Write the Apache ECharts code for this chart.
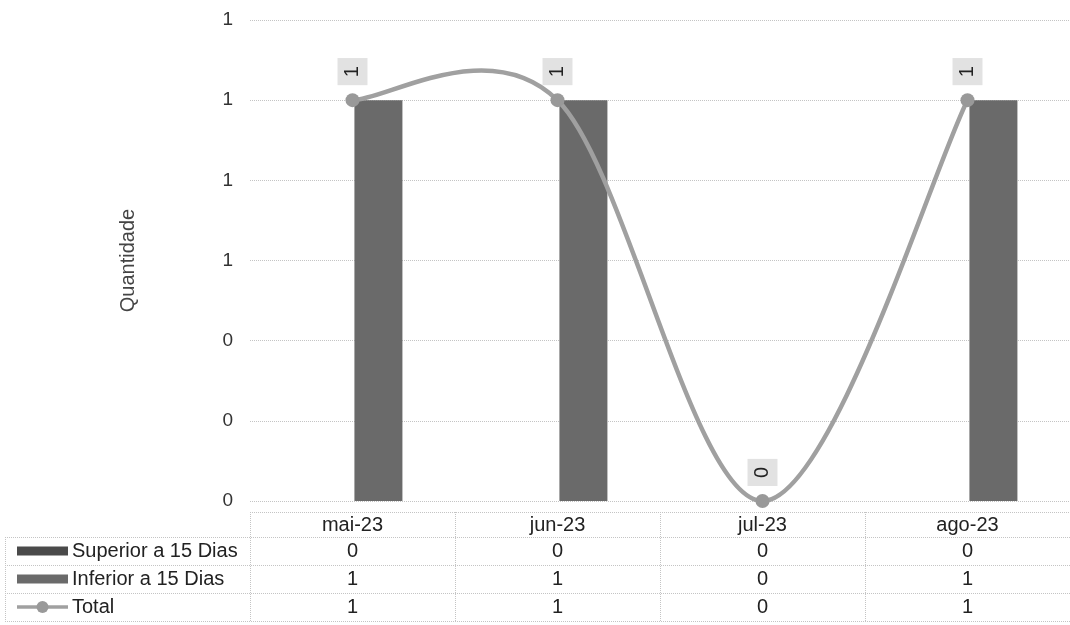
<!DOCTYPE html>
<html><head><meta charset="utf-8">
<script src="https://cdn.jsdelivr.net/npm/echarts@6/dist/echarts.min.js"></script>
<style>html,body{margin:0;padding:0;background:#fff}#c{width:1070px;height:625px}</style>
</head><body><div id="c"></div>
<script>
const categories = ['mai-23', 'jun-23', 'jul-23', 'ago-23'];
const superior = [0, 0, 0, 0];
const inferior = [1, 1, 0, 1];
const total = [1, 1, 0, 1];
const seriesNames = ['Superior a 15 Dias', 'Inferior a 15 Dias', 'Total'];
const yTicks = { min: 0, max: 1.2, interval: 0.2 };

const FONT = '"Liberation Sans", Arial, sans-serif';
const cSup = '#4a4a4a', cInf = '#6a6a6a', cLine = '#a0a0a0', cDot = '#999999';
const gridCol = '#c4c4c4';

const chart = echarts.init(document.getElementById('c'), null, { renderer: 'canvas' });
const GRID = { left: 250, right: -4, top: 20, bottom: 124 };

// Smooth (Catmull-Rom style) curve through the Total values, via the axis scales
function renderCurve(params, api) {
  const i = params.dataIndex;
  const n = total.length;
  if (i >= n - 1) return null;
  const P = k => { const j = Math.max(0, Math.min(n - 1, k)); return api.coord([j, total[j]]); };
  const p0 = P(i - 1), p1 = P(i), p2 = P(i + 1), p3 = P(i + 2);
  const t = 6;
  return {
    type: 'bezierCurve',
    shape: {
      x1: p1[0], y1: p1[1], x2: p2[0], y2: p2[1],
      cpx1: p1[0] + (p2[0] - p0[0]) / t, cpy1: p1[1] + (p2[1] - p0[1]) / t,
      cpx2: p2[0] - (p3[0] - p1[0]) / t, cpy2: p2[1] - (p3[1] - p1[1]) / t
    },
    style: { stroke: cLine, lineWidth: 4.5, fill: null, lineCap: 'round' }
  };
}

chart.setOption({
  animation: false,
  textStyle: { fontFamily: FONT },
  grid: GRID,
  xAxis: {
    type: 'category', data: categories,
    axisLine: { show: false }, axisTick: { show: false }, axisLabel: { show: false }
  },
  yAxis: {
    type: 'value', min: yTicks.min, max: yTicks.max, interval: yTicks.interval,
    name: 'Quantidade', nameLocation: 'middle', nameGap: 112,
    nameTextStyle: { fontSize: 20, color: '#444', fontFamily: FONT },
    axisLine: { show: false }, axisTick: { show: false },
    axisLabel: { fontSize: 19, color: '#333', margin: 17, fontFamily: FONT,
      formatter: v => String(Math.round(v)) },
    splitLine: { lineStyle: { color: gridCol, type: 'dotted', width: 1 } }
  },
  series: [
    { name: seriesNames[0], type: 'bar', data: superior, barWidth: 48, barGap: '8%',
      itemStyle: { color: cSup } },
    { name: seriesNames[1], type: 'bar', data: inferior, barWidth: 48, barGap: '8%',
      itemStyle: { color: cInf } },
    { name: seriesNames[2] + ' curve', type: 'custom', data: total.map((v, i) => [i, v]),
      renderItem: renderCurve, clip: false, z: 4, silent: true },
    { name: seriesNames[2], type: 'line', data: total,
      symbol: 'circle', symbolSize: 14,
      lineStyle: { opacity: 0 }, itemStyle: { color: cDot },
      label: { show: true, position: 'top', distance: 8, rotate: 90,
        align: 'left', verticalAlign: 'middle',
        fontSize: 20, color: '#222', fontFamily: FONT, lineHeight: 20,
        backgroundColor: '#e2e2e2', padding: [5, 8, 5, 8] },
      z: 5 }
  ]
});

// Data table below the plot
const centers = categories.map((c, i) => chart.convertToPixel({ xAxisIndex: 0 }, i));
const band = centers.length > 1 ? centers[1] - centers[0] : 200;
const bounds = centers.map(c => c - band / 2).concat([centers[centers.length - 1] + band / 2]);
const rowTop = [512, 537, 565, 593, 621];
const tableLeft = 5, W = 1070;
const rows = [superior, inferior, total];
const els = [];
const ls = { stroke: gridCol, lineWidth: 1, lineDash: [1, 1] };
const TF = 20;
els.push({ type: 'line', shape: { x1: bounds[0], y1: rowTop[0] + 0.5, x2: W, y2: rowTop[0] + 0.5 }, style: ls });
for (let r = 1; r < rowTop.length; r++)
  els.push({ type: 'line', shape: { x1: tableLeft, y1: rowTop[r] + 0.5, x2: W, y2: rowTop[r] + 0.5 }, style: ls });
els.push({ type: 'line', shape: { x1: tableLeft + 0.5, y1: rowTop[1], x2: tableLeft + 0.5, y2: rowTop[4] }, style: ls });
bounds.forEach(b => els.push({ type: 'line', shape: { x1: Math.round(b) + 0.5, y1: rowTop[0], x2: Math.round(b) + 0.5, y2: rowTop[4] }, style: ls }));
categories.forEach((c, i) => els.push({ type: 'text', x: centers[i], y: (rowTop[0] + rowTop[1]) / 2 + 1,
  style: { text: c, fontSize: TF, fill: '#222', align: 'center', verticalAlign: 'middle', fontFamily: FONT } }));
rows.forEach((arr, r) => {
  const yc = (rowTop[r + 1] + rowTop[r + 2]) / 2;
  arr.forEach((v, i) => els.push({ type: 'text', x: centers[i], y: yc,
    style: { text: String(v), fontSize: TF, fill: '#222', align: 'center', verticalAlign: 'middle', fontFamily: FONT } }));
  els.push({ type: 'text', x: 72, y: yc,
    style: { text: seriesNames[r], fontSize: TF, fill: '#222', align: 'left', verticalAlign: 'middle', fontFamily: FONT } });
  if (r < 2) {
    els.push({ type: 'rect', shape: { x: 17, y: yc - 4.5, width: 51, height: 9 }, style: { fill: r === 0 ? cSup : cInf } });
  } else {
    els.push({ type: 'line', shape: { x1: 17, y1: yc, x2: 68, y2: yc }, style: { stroke: cLine, lineWidth: 3.5 } });
    els.push({ type: 'circle', shape: { cx: 42.5, cy: yc, r: 6 }, style: { fill: cDot } });
  }
});
chart.setOption({ graphic: { elements: els } });
</script></body></html>
